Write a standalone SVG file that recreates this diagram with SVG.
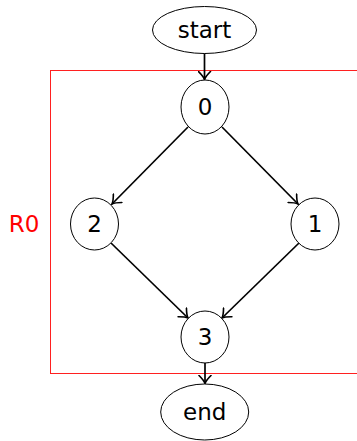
<svg xmlns="http://www.w3.org/2000/svg" width="357" height="441" viewBox="0 0 357 441">
  <defs>
    <style>
      .node ellipse { fill: #fff; stroke: #000; stroke-width: 1; }
      .node text { font-family: "DejaVu Sans", "Liberation Sans", sans-serif; font-size: 23px; fill: #000; text-anchor: middle; dominant-baseline: central; }
      .edge { fill: none; stroke: #000; stroke-width: 1.7; marker-end: url(#arrow); }
      .region { fill: none; stroke: #ff2020; stroke-width: 1; }
      .region-label { font-family: "DejaVu Sans", "Liberation Sans", sans-serif; font-size: 23px; fill: #ff0000; text-anchor: middle; dominant-baseline: central; }
    </style>
    <marker id="arrow" viewBox="-9 -7 10 14" markerWidth="10" markerHeight="14" refX="0" refY="0" orient="auto" markerUnits="userSpaceOnUse">
      <path d="M -8 -6 Q -3 -1 0 0 Q -3 1 -8 6" fill="none" stroke="#000" stroke-width="1.6" stroke-linecap="round"/>
    </marker>
  </defs>

  <!-- region box -->
  <g id="region-R0">
    <rect class="region" x="50.5" y="70.5" width="320" height="303"/>
    <text class="region-label" x="24" y="224">R0</text>
  </g>

  <!-- connectors -->
  <g id="edges">
    <path class="edge" d="M 204.5 53 L 204.5 79.5"/>
    <path class="edge" d="M 188 127 L 112 204"/>
    <path class="edge" d="M 222 127 L 298 204"/>
    <path class="edge" d="M 111 243 L 188 318"/>
    <path class="edge" d="M 299 243 L 222 318"/>
    <path class="edge" d="M 205 363 L 205 383.5"/>
  </g>

  <g id="node-start" class="node">
    <ellipse cx="204.5" cy="30" rx="52" ry="23.5"/>
    <text x="204.5" y="30">start</text>
  </g>
  <g id="node-0" class="node">
    <ellipse cx="205" cy="107" rx="24" ry="27"/>
    <text x="205" y="107">0</text>
  </g>
  <g id="node-2" class="node">
    <ellipse cx="94.5" cy="224" rx="24" ry="26"/>
    <text x="94.5" y="224">2</text>
  </g>
  <g id="node-1" class="node">
    <ellipse cx="315" cy="224" rx="24" ry="26"/>
    <text x="315" y="224">1</text>
  </g>
  <g id="node-3" class="node">
    <ellipse cx="205" cy="337" rx="24" ry="26"/>
    <text x="205" y="337">3</text>
  </g>
  <g id="node-end" class="node">
    <ellipse cx="204.7" cy="412" rx="44" ry="28"/>
    <text x="204.7" y="412">end</text>
  </g>
</svg>
